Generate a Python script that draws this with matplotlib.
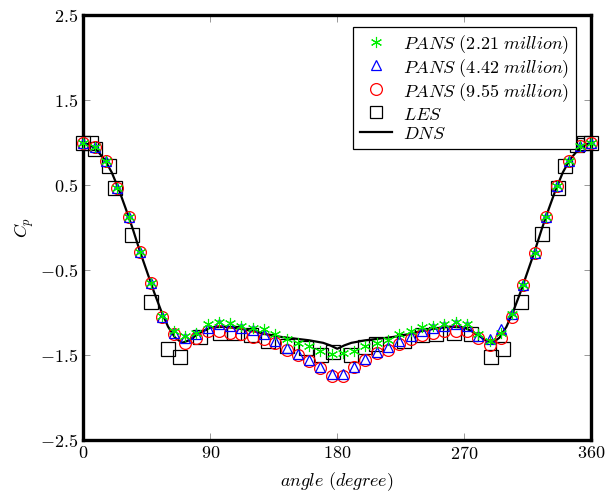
import matplotlib
matplotlib.use('Agg')
import matplotlib.pyplot as plt
from matplotlib.lines import Line2D

plt.rcParams['mathtext.fontset'] = 'cm'
plt.rcParams['font.family'] = 'serif'
plt.rcParams['font.serif'] = ['cmr10', 'DejaVu Serif']
plt.rcParams['axes.unicode_minus'] = False

# PANS sample angles (every 8 degrees)
pans_angle = [0, 8, 16, 24, 32, 40, 48, 56, 64, 72, 80, 88, 96, 104, 112, 120,
              128, 136, 144, 152, 160, 168, 176, 184, 192, 200, 208, 216, 224,
              232, 240, 248, 256, 264, 272, 280, 288, 296, 304, 312, 320, 328,
              336, 344, 352, 360]

pans_221 = [1.00, 0.95, 0.78, 0.47, 0.12, -0.29, -0.66, -1.04, -1.22, -1.28,
            -1.24, -1.14, -1.12, -1.13, -1.16, -1.18, -1.20, -1.26, -1.31, -1.36,
            -1.40, -1.46, -1.49, -1.48, -1.46, -1.40, -1.36, -1.33, -1.26, -1.22,
            -1.17, -1.16, -1.14, -1.12, -1.14, -1.26, -1.34, -1.24, -1.02, -0.68,
            -0.30, 0.12, 0.49, 0.78, 0.96, 1.00]

pans_442 = [1.00, 0.95, 0.78, 0.47, 0.12, -0.29, -0.66, -1.05, -1.24, -1.30,
            -1.26, -1.18, -1.14, -1.16, -1.18, -1.21, -1.25, -1.34, -1.42, -1.49,
            -1.56, -1.65, -1.73, -1.73, -1.64, -1.55, -1.47, -1.41, -1.34, -1.28,
            -1.22, -1.18, -1.16, -1.14, -1.16, -1.28, -1.32, -1.20, -1.02, -0.68,
            -0.30, 0.12, 0.49, 0.78, 0.96, 1.00]

pans_955 = [1.00, 0.95, 0.78, 0.47, 0.12, -0.29, -0.66, -1.05, -1.26, -1.36,
            -1.30, -1.22, -1.22, -1.24, -1.26, -1.29, -1.31, -1.36, -1.44, -1.50,
            -1.57, -1.66, -1.745, -1.745, -1.65, -1.56, -1.48, -1.44, -1.37, -1.31,
            -1.27, -1.24, -1.22, -1.22, -1.22, -1.30, -1.39, -1.30, -1.05, -0.68,
            -0.30, 0.12, 0.49, 0.78, 0.96, 1.00]

les_angle = [0, 5, 8.5, 18, 22.5, 34.5, 48, 60, 68.5, 82.5, 97, 107, 119, 131,
             144, 157.5, 168.5, 177, 189.5, 200, 207.5, 227, 240, 250, 262.5,
             275, 289, 297.5, 310.5, 325, 336.5, 341.5, 350, 355, 360]
les_cp = [1.00, 1.00, 0.93, 0.72, 0.47, -0.09, -0.88, -1.43, -1.53, -1.29,
          -1.24, -1.24, -1.27, -1.34, -1.40, -1.42, -1.50, -1.47, -1.50, -1.41,
          -1.37, -1.34, -1.27, -1.26, -1.24, -1.26, -1.53, -1.43, -0.88, -0.08,
          0.46, 0.72, 0.97, 1.00, 1.00]

dns_angle = [0, 5, 10, 15, 20, 25, 30, 35, 40, 45, 50, 55, 60, 65, 70, 75, 80,
             85, 90, 100, 110, 120, 130, 140, 150, 160, 170, 175, 180, 185, 190,
             200, 210, 220, 230, 240, 250, 260, 270, 275, 280, 285, 290, 295,
             300, 305, 310, 315, 320, 325, 330, 335, 340, 345, 350, 355, 360]
dns_cp = [1.00, 0.97, 0.90, 0.80, 0.65, 0.45, 0.22, -0.02, -0.28, -0.52, -0.76,
          -0.98, -1.17, -1.30, -1.36, -1.33, -1.27, -1.22, -1.18, -1.17, -1.19,
          -1.22, -1.26, -1.29, -1.31, -1.33, -1.36, -1.39, -1.43, -1.39, -1.36,
          -1.33, -1.31, -1.29, -1.26, -1.22, -1.19, -1.17, -1.18, -1.22, -1.27,
          -1.33, -1.36, -1.30, -1.17, -0.98, -0.76, -0.52, -0.28, -0.02, 0.22,
          0.45, 0.65, 0.80, 0.90, 0.97, 1.00]

x_ticks = [0, 90, 180, 270, 360]
x_ticklabels = ['$0$', '$90$', '$180$', '$270$', '$360$']
y_ticks = [-2.5, -1.5, -0.5, 0.5, 1.5, 2.5]
y_ticklabels = ['$-2.5$', '$-1.5$', '$-0.5$', '$0.5$', '$1.5$', '$2.5$']

fig = plt.figure(figsize=(6.05, 4.95), dpi=100)
ax = fig.add_axes([0.138, 0.112, 0.839, 0.857])

ax.plot(les_angle, les_cp, 's', ms=9.5, mfc='none', mec='black', mew=0.9,
        zorder=2, clip_on=False)
ax.plot(dns_angle, dns_cp, '-', color='black', lw=1.6, zorder=3)
ax.plot(pans_angle, pans_955, 'o', ms=8.5, mfc='none', mec='red', mew=0.9,
        zorder=4, clip_on=False)
ax.plot(pans_angle, pans_442, '^', ms=7, mfc='none', mec='blue', mew=0.9,
        zorder=5, clip_on=False)
ax.plot(pans_angle, pans_221, marker=(6, 2, 0), ls='none', ms=8,
        mec='#00ee00', mew=0.8, zorder=6, clip_on=False)

ax.set_xlim(0, 360)
ax.set_ylim(-2.5, 2.5)
ax.set_xticks(x_ticks)
ax.set_xticklabels(x_ticklabels)
ax.set_yticks(y_ticks)
ax.set_yticklabels(y_ticklabels)
ax.tick_params(direction='in', length=5, width=0.6, color='#888888',
               labelsize=13, top=True, right=True, pad=4)
for s in ax.spines.values():
    s.set_linewidth(2.4)

ax.set_xlabel(r'$angle\ (degree)$', fontsize=13, labelpad=6)
ax.set_ylabel(r'$C_p$', fontsize=13, labelpad=3)

handles = [
    Line2D([], [], marker=(6, 2, 0), ls='none', ms=8, mec='#00ee00', mew=0.8),
    Line2D([], [], marker='^', ls='none', ms=7, mfc='none', mec='blue', mew=0.9),
    Line2D([], [], marker='o', ls='none', ms=8.5, mfc='none', mec='red', mew=0.9),
    Line2D([], [], marker='s', ls='none', ms=8, mfc='none', mec='black', mew=0.9),
    Line2D([], [], color='black', lw=1.6),
]
labels = [r'$PANS\ (2.21\ million)$', r'$PANS\ (4.42\ million)$',
          r'$PANS\ (9.55\ million)$', r'$LES$', r'$DNS$']
leg = ax.legend(handles, labels, loc='upper right',
                bbox_to_anchor=(0.970, 0.973), borderaxespad=0, fontsize=13,
                fancybox=False, edgecolor='black', framealpha=1,
                handlelength=1.75, handleheight=1.2, labelspacing=0.05,
                borderpad=0.38, handletextpad=0.6)
leg.get_frame().set_linewidth(0.9)

fig.savefig('out.png', dpi=100)
